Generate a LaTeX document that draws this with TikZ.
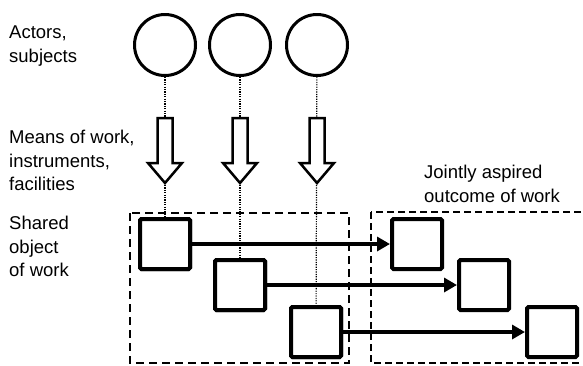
\documentclass[tikz,border=0pt]{standalone}
\usepackage{fontspec}
\setmainfont{Liberation Sans}
\usetikzlibrary{arrows.meta}
\begin{document}
\begin{tikzpicture}[x=1pt,y=-1pt,
  actor/.style={circle,draw,line width=3pt,minimum size=61pt,inner sep=0pt},
  obj/.style={rectangle,draw,line width=4pt,minimum size=50pt,inner sep=0pt,rounded corners=1.5pt},
  lbl/.style={align=left,anchor=north west,inner sep=0pt,font=\fontsize{18.5}{23.5}\selectfont},
  guide/.style={line width=1.2pt,dash pattern=on 1.2pt off 1.2pt},
  flow/.style={line width=4pt,-{Triangle[length=13pt,width=14pt]}},
  means/.style={draw,line width=2.5pt,fill=white,line join=miter},
  frame/.style={line width=2.5pt,dash pattern=on 8pt off 5pt},
  frameb/.style={line width=2pt,dash pattern=on 7pt off 4pt},
  meansarrow/.pic={\draw[means] (-7.5,0) -- (7.5,0) -- (7.5,45) -- (17,45) -- (0,65) -- (-17,45) -- (-7.5,45) -- cycle;}
]
\useasboundingbox (0,0) rectangle (583,365);

% actors
\node[actor] (a1) at (165,45) {};
\node[actor] (a2) at (240,45) {};
\node[actor] (a3) at (317,45) {};

% shared objects and outcomes
\node[obj] (s1) at (165,244) {};
\node[obj] (s2) at (240,285) {};
\node[obj] (s3) at (316,332) {};
\node[obj] (t1) at (417,244) {};
\node[obj] (t2) at (484,285) {};
\node[obj] (t3) at (552,332) {};

% dotted guides
\draw[guide] (a1) -- (s1);
\draw[guide] (a2) -- (s2);
\draw[guide] (a3) -- (s3);

% means of work arrows
\pic at (165,118) {meansarrow};
\pic at (240,118) {meansarrow};
\pic at (317,118) {meansarrow};

% frames
\draw[frame] (130,213) rectangle (349,363);
\draw[frameb] (371,212) rectangle (600,363);

% flows
\draw[flow] (s1) -- (t1);
\draw[flow] (s2) -- (t2);
\draw[flow] (s3) -- (t3);

% redraw squares on top
\node[obj,fill=white] at (s1) {};
\node[obj,fill=white] at (s2) {};
\node[obj,fill=white] at (s3) {};

% labels
\node[lbl] (lact) at (9,26) {Actors,\\subjects};
\node[lbl] (lmeans) at (9,130) {Means of work,\\instruments,\\facilities};
\node[lbl] (lshared) at (9,216) {Shared\\object\\of work};
\node[lbl] (lout) at (424,165) {Jointly aspired\\outcome of work};
\end{tikzpicture}
\end{document}
